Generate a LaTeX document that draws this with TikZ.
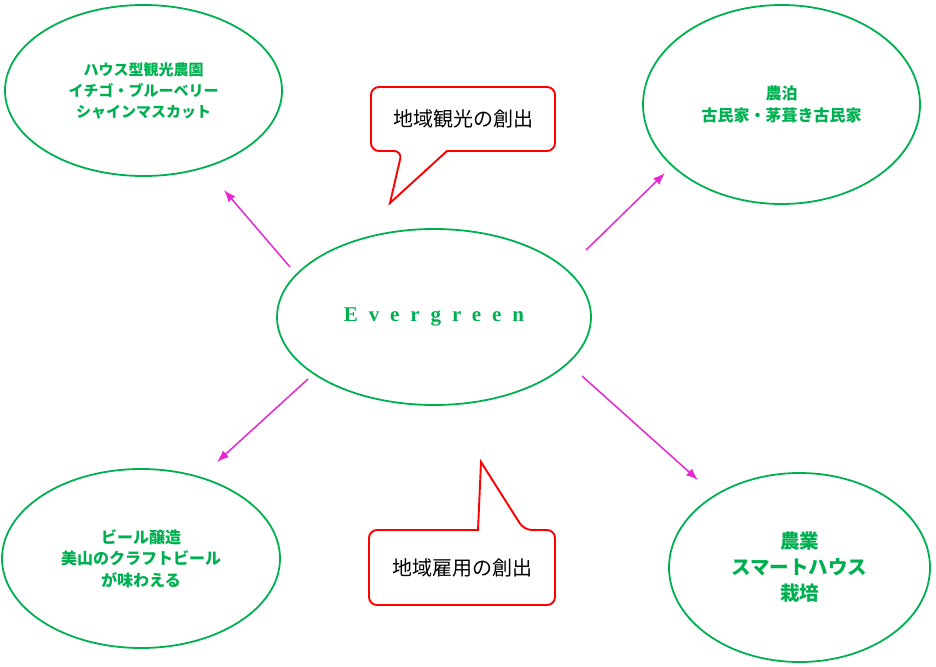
\documentclass[tikz,border=0pt]{standalone}
\usepackage{fontspec}
\newfontfamily\jp{Noto Sans CJK JP}
\newfontfamily\evfont[LetterSpace=52]{Liberation Serif}
\usetikzlibrary{arrows.meta, shapes.geometric}
\definecolor{leafgreen}{RGB}{0,176,80}
\definecolor{linkpink}{RGB}{230,40,210}

\begin{document}
\begin{tikzpicture}[x=1pt, y=-1pt,
  farm/.style={ellipse, draw=leafgreen, line width=1.8pt, text=leafgreen, align=center, inner sep=0pt},
  link/.style={-{Latex[length=12pt,width=9pt]}, linkpink, line width=1.5pt},
  bubble/.style={draw=red, line width=1.9pt}]
  \useasboundingbox (0,0) rectangle (936,666);

  % Ellipses
  \node[farm, minimum width=277, minimum height=171, font=\jp\bfseries\fontsize{15}{21}\selectfont] (kanko) at (143.5,90.5) {ハウス型観光農園\\イチゴ・ブルーベリー\\シャインマスカット};
  \node[farm, minimum width=277, minimum height=199, font=\jp\bfseries\fontsize{16}{22}\selectfont] (minpaku) at (781.5,104.5) {農泊\\古民家・茅葺き古民家};
  \node[farm, minimum width=314, minimum height=176, font=\evfont\bfseries\fontsize{21}{24}\selectfont] (ever) at (434,317) {Evergreen};
  \node[farm, minimum width=278, minimum height=179, font=\jp\bfseries\fontsize{16}{21.5}\selectfont] (beer) at (141,558.5) {ビール醸造\\美山のクラフトビール\\が味わえる};
  \node[farm, minimum width=261, minimum height=189, font=\jp\bfseries\fontsize{19.5}{26}\selectfont] (nogyo) at (799.5,567.5) {農業\\スマートハウス\\栽培};

  % Arrows
  \coordinate (tl0) at (290,267);  \coordinate (tl1) at (224,190);
  \coordinate (tr0) at (586,250);  \coordinate (tr1) at (665,173);
  \coordinate (bl0) at (308,379);  \coordinate (bl1) at (217,462);
  \coordinate (br0) at (582,376);  \coordinate (br1) at (698,480);
  \draw[link] (tl0) -- (tl1);
  \draw[link] (tr0) -- (tr1);
  \draw[link] (bl0) -- (bl1);
  \draw[link] (br0) -- (br1);

  % Callouts
  \draw[bubble] (402,151) [sharp corners] -- (390,203) -- (447,151)
    [rounded corners=8] -- (555,151) -- (555,87) -- (371,87) -- (371,151) -- cycle;
  \node[font=\jp\fontsize{20}{24}\selectfont] (kanko-msg) at (463,119) {地域観光の創出};

  \draw[bubble] (524,530) [sharp corners] -- (481,462) -- (478,530)
    [rounded corners=8] -- (369,530) -- (369,605) -- (555,605) -- (555,530) -- cycle;
  \node[font=\jp\fontsize{20}{24}\selectfont] (koyo-msg) at (462,568) {地域雇用の創出};
\end{tikzpicture}
\end{document}
